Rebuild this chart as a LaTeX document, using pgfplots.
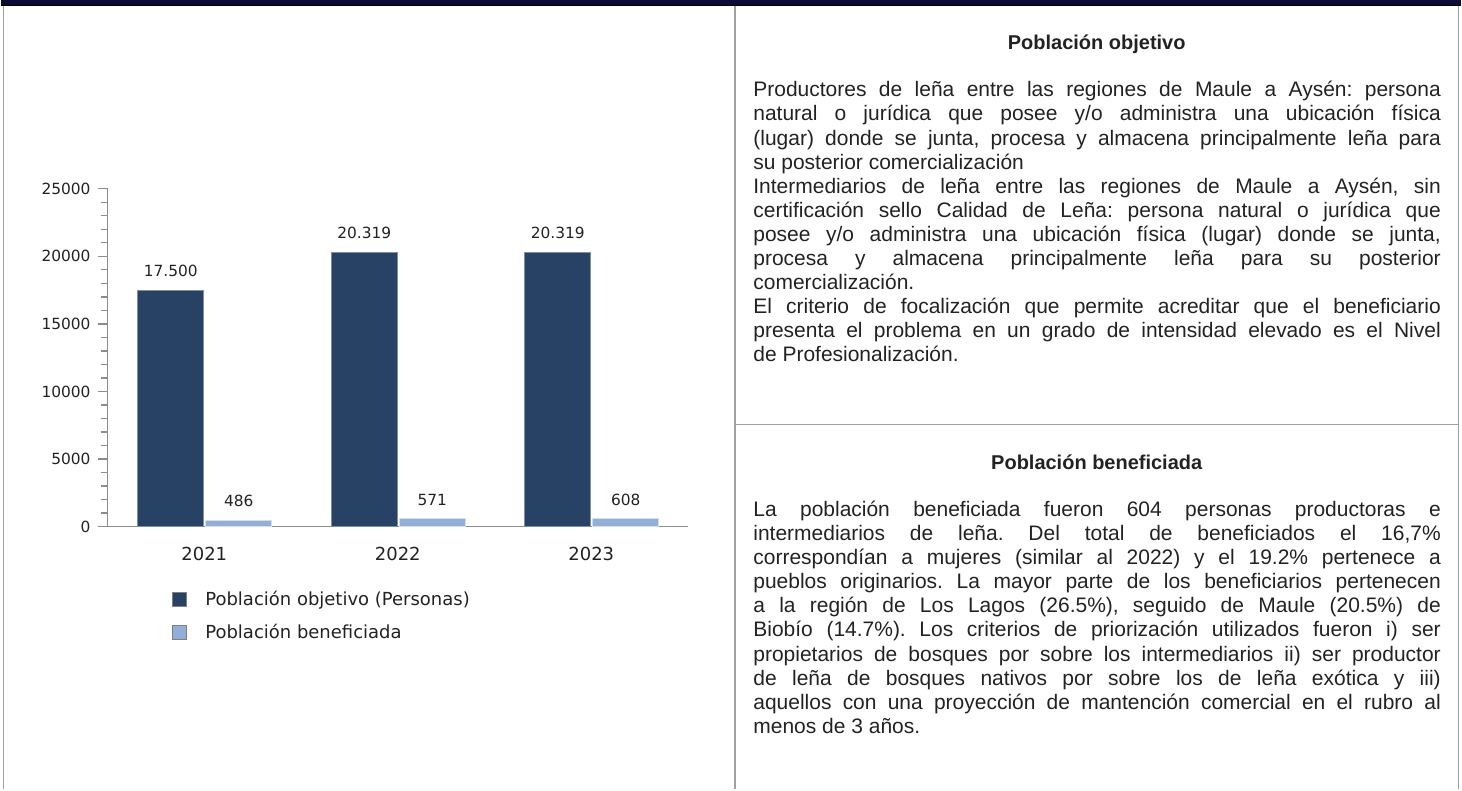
\documentclass[border=0pt]{standalone}
\usepackage{pgfplots}
\pgfplotsset{compat=1.18}
\usepackage{fontspec}
\setmainfont{Liberation Sans}
\newfontfamily\chartfont{DejaVu Sans}
\definecolor{navybar}{HTML}{0B0B38}
\definecolor{darkbar}{HTML}{274265}
\definecolor{lightbar}{HTML}{92AFD7}
\definecolor{framegray}{HTML}{A0A0A0}
\definecolor{axisgray}{HTML}{8C8C8C}
\definecolor{txt}{HTML}{222222}
\newcommand{\J}[1]{\makebox[344pt][s]{#1}}
\frenchspacing
\begin{document}
\begin{tikzpicture}[x=0.5pt,y=-0.5pt]
\path (0,0) rectangle (1462,790);
% frame
\fill[navybar] (0,0) rectangle (1462,5);
\draw[black,line width=0.6pt] (0,5.5) -- (1462,5.5);
\draw[framegray,line width=0.8pt] (3,6) -- (3,790);
\draw[framegray,line width=0.8pt] (735,6) -- (735,790);
\draw[framegray,line width=0.8pt] (1459,6) -- (1459,790);
\draw[framegray,line width=0.8pt] (735,425) -- (1459,425);
% chart
\begin{axis}[
  at={(53.5pt,-263.5pt)}, anchor=south west,
  scale only axis, width=290.5pt, height=169pt,
  xmin=-0.5, xmax=2.5, ymin=0, ymax=25000,
  axis lines=left, axis line style={axisgray,line width=0.7pt,-},
  xtick=data, xticklabels={2021,2022,2023},
  x tick style={draw=none},
  ytick={0,5000,...,25000}, minor y tick num=4,
  y tick style={axisgray,line width=0.6pt},
  tick align=outside, major tick length=5pt, minor tick length=3.5pt,
  scaled y ticks=false,
  /pgf/number format/assume math mode=true,
  yticklabel style={font=\chartfont\fontsize{7.7}{9}\selectfont, text=txt, /pgf/number format/.cd, 1000 sep={}},
  xticklabel style={font=\chartfont\fontsize{9}{11}\selectfont, text=txt, yshift=-2pt},
  ybar, bar width=33pt,
  nodes near coords={\pgfmathprintnumber[assume math mode=true,1000 sep={.},fixed,precision=0]{\pgfplotspointmeta}},
  nodes near coords style={font=\chartfont\fontsize{7.7}{9}\selectfont, text=txt, yshift=3pt},
  legend style={draw=none, fill=none, at={(0.1,-0.165)}, anchor=north west,
    font=\chartfont\fontsize{9}{11}\selectfont, text=txt, row sep=4pt},
  legend cell align=left,
  legend image code/.code={\draw[#1, draw=gray] (0pt,-3.5pt) rectangle (7pt,3.5pt); \path[draw=none,fill=none] (0pt,0pt) -- (14.5pt,0pt);},
  clip=false,
]
\addplot[fill=darkbar, draw=darkbar!60!white, bar shift=-16.75pt] coordinates {(0,17500) (1,20319) (2,20319)};
\addplot[fill=lightbar, draw=lightbar!40!white, bar shift=17.25pt] coordinates {(0,486) (1,571) (2,608)};
\legend{Población objetivo (Personas), Población beneficiada}
\end{axis}
% text panel
\begin{scope}[every node/.style={inner sep=0pt, anchor=base west, text=txt, font=\fontsize{10.5}{12}\selectfont}]
\node[anchor=base, font=\bfseries\fontsize{10}{12}\selectfont] at (1097,50) {Población objetivo};
\node at (753,97.0) {\J{Productores de leña entre las regiones de Maule a Aysén: persona}};
\node at (753,121.1) {\J{natural o jurídica que posee y/o administra una ubicación física}};
\node at (753,145.2) {\J{(lugar) donde se junta, procesa y almacena principalmente leña para}};
\node at (753,169.3) {su posterior comercialización};
\node at (753,193.4) {\J{Intermediarios de leña entre las regiones de Maule a Aysén, sin}};
\node at (753,217.5) {\J{certificación sello Calidad de Leña: persona natural o jurídica que}};
\node at (753,241.6) {\J{posee y/o administra una ubicación física (lugar) donde se junta,}};
\node at (753,265.7) {\J{procesa y almacena principalmente leña para su posterior}};
\node at (753,289.8) {comercialización.};
\node at (753,313.9) {\J{El criterio de focalización que permite acreditar que el beneficiario}};
\node at (753,338.0) {\J{presenta el problema en un grado de intensidad elevado es el Nivel}};
\node at (753,362.1) {de Profesionalización.};
\node[anchor=base, font=\bfseries\fontsize{10}{12}\selectfont] at (1097,470) {Población beneficiada};
\node at (753,517.0) {\J{La población beneficiada fueron 604 personas productoras e}};
\node at (753,541.1) {\J{intermediarios de leña. Del total de beneficiados el 16,7\%}};
\node at (753,565.2) {\J{correspondían a mujeres (similar al 2022) y el 19.2\% pertenece a}};
\node at (753,589.3) {\J{pueblos originarios. La mayor parte de los beneficiarios pertenecen}};
\node at (753,613.4) {\J{a la región de Los Lagos (26.5\%), seguido de Maule (20.5\%) de}};
\node at (753,637.5) {\J{Biobío (14.7\%). Los criterios de priorización utilizados fueron i) ser}};
\node at (753,661.6) {\J{propietarios de bosques por sobre los intermediarios ii) ser productor}};
\node at (753,685.7) {\J{de leña de bosques nativos por sobre los de leña exótica y iii)}};
\node at (753,709.8) {\J{aquellos con una proyección de mantención comercial en el rubro al}};
\node at (753,733.9) {menos de 3 años.};
\end{scope}
\end{tikzpicture}
\end{document}
